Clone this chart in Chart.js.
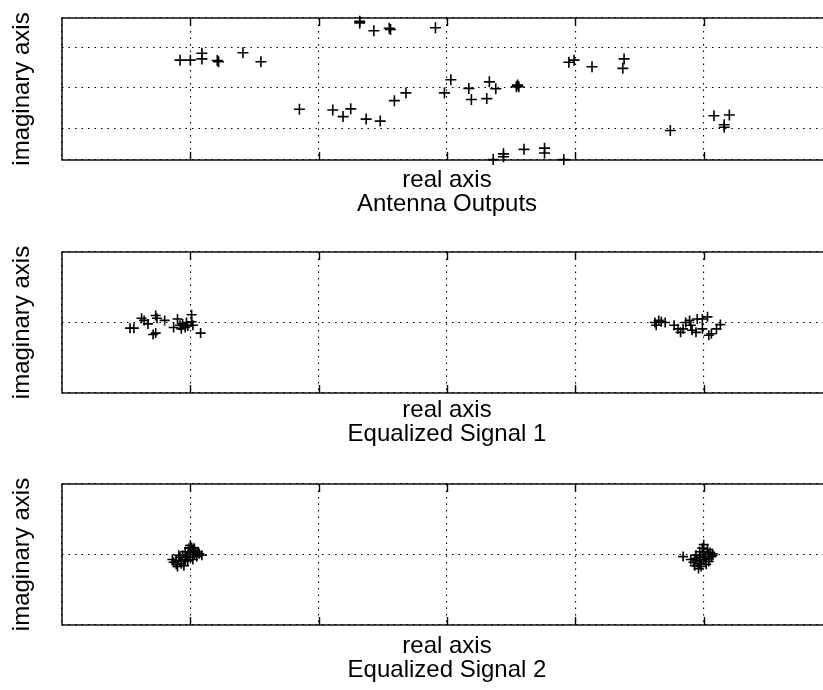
<!DOCTYPE html>
<html>
<head>
<meta charset="utf-8">
<script src="https://cdn.jsdelivr.net/npm/chart.js@4.4.0/dist/chart.umd.min.js"></script>
<style>
html, body { margin: 0; padding: 0; background: #fff; overflow: hidden; width: 823px; height: 690px; }
canvas { position: absolute; left: 0; }
</style>
</head>
<body>
<canvas id="c1" width="840" height="230" style="top:0px"></canvas>
<canvas id="c2" width="840" height="230" style="top:230px"></canvas>
<canvas id="c3" width="840" height="230" style="top:460px"></canvas>
<script>
// titles under each panel
const panelTitles = ['Antenna Outputs', 'Equalized Signal 1', 'Equalized Signal 2'];
const xLabel = 'real axis';
const yLabel = 'imaginary axis';

// antenna outputs (real, imaginary)
const antennaRe = [-2.08, -2.00, -1.91, -1.91, -1.79, -1.78, -1.59, -1.45, -1.15, -0.68, -0.68, -0.57, -0.45, -0.44,
  -0.89, -0.81, -0.75, -0.63, -0.52, -0.41, -0.32, -0.09, 0.03, -0.02, 0.17, 0.19, 0.31, 0.33, 0.38, 0.55, 0.56, 0.54,
  0.36, 0.44, 0.44, 0.60, 0.76, 0.76, 0.91, 0.95, 0.99, 1.13, 1.38, 1.37, 1.74, 2.08, 2.20, 2.16, 2.16];
const antennaIm = [0.68, 0.68, 0.85, 0.71, 0.67, 0.64, 0.86, 0.64, -0.52, 1.63, 1.59, 1.40, 1.46, 1.43,
  -0.54, -0.70, -0.51, -0.76, -0.81, -0.31, -0.12, 1.47, 0.20, -0.12, -0.01, -0.28, -0.26, 0.15, -0.02, 0.07, 0.03, 0.03,
  -1.75, -1.61, -1.68, -1.50, -1.47, -1.59, -1.75, 0.63, 0.68, 0.52, 0.71, 0.48, -1.04, -0.68, -0.66, -0.90, -0.96];

// equalized signal 1
const eq1Re = [-2.47, -2.44, -2.38, -2.36, -2.33, -2.27, -2.26, -2.20, -2.29, -2.27, -2.13, -2.10, -2.08, -2.07,
  -2.06, -2.04, -2.03, -2.02, -1.99, -1.99, -1.98, -1.92,
  1.62, 1.65, 1.63, 1.67, 1.70, 1.77, 1.80, 1.82, 1.86, 1.89, 1.91, 1.90, 1.95, 1.99, 2.03, 1.99, 2.04, 2.06,
  2.10, 2.13, 1.84, 1.94];
const eq1Im = [-0.08, -0.08, 0.06, 0.03, -0.02, 0.10, 0.06, 0.03, -0.17, -0.15, -0.07, 0.05, -0.04, -0.09,
  -0.02, -0.07, 0.00, -0.05, 0.11, 0.01, -0.04, -0.15,
  0.00, 0.03, -0.04, 0.01, 0.00, -0.04, -0.09, -0.14, 0.00, 0.03, -0.11, -0.04, 0.05, 0.05, 0.08, -0.09, -0.18, -0.16,
  -0.09, -0.03, -0.09, -0.14];

// equalized signal 2
const eq2Re = [-2.14, -2.13, -2.11, -2.10, -2.11, -2.08, -2.07, -2.05, -2.06, -2.04, -2.03, -2.02, -2.01, -2.00,
  -2.00, -1.99, -1.98, -1.97, -1.97, -1.96, -1.94, -1.93, -1.91, -2.04, -2.07, -2.09, -2.00, -1.95, -2.02, -1.98,
  1.84, 1.90, 1.92, 1.93, 1.95, 1.97, 1.97, 1.99, 2.00, 2.00, 2.01, 2.02, 2.03, 2.04, 2.04, 2.05, 2.06, 2.07,
  2.07, 1.96, 1.98, 2.00, 1.94, 1.97, 2.02, 1.93, 2.04, 1.99];
const eq2Im = [-0.07, -0.11, -0.14, -0.17, -0.09, -0.04, -0.10, -0.16, -0.01, 0.04, -0.03, -0.09, 0.09, 0.03,
  -0.04, 0.10, 0.06, 0.00, 0.09, 0.03, 0.04, 0.01, -0.01, -0.07, -0.13, -0.01, 0.13, -0.03, 0.00, -0.07,
  -0.03, -0.07, -0.11, -0.16, -0.09, -0.04, -0.13, 0.00, -0.07, 0.04, -0.03, -0.10, 0.07, 0.00, -0.06, 0.03, -0.03, -0.01,
  0.01, -0.20, -0.17, 0.14, -0.01, 0.04, -0.14, -0.06, -0.10, 0.09];

const fontFamily = "'Liberation Sans', Arial, Helvetica, sans-serif";

// box around the plot and inward ticks along top and bottom
const framePlugin = {
  id: 'frame',
  afterDraw(chart) {
    const { ctx, chartArea: a, scales: { x } } = chart;
    ctx.save();
    ctx.strokeStyle = '#000';
    ctx.lineWidth = 1.4;
    ctx.strokeRect(a.left, a.top, a.right - a.left, a.bottom - a.top);
    x.ticks.forEach(t => {
      const px = Math.round(x.getPixelForValue(t.value)) + 0.5;
      if (px <= a.left + 2 || px >= a.right - 2) return;
      ctx.beginPath();
      ctx.moveTo(px, a.top); ctx.lineTo(px, a.top + 8);
      ctx.moveTo(px, a.bottom); ctx.lineTo(px, a.bottom - 8);
      ctx.stroke();
    });
    ctx.restore();
  }
};

function makePanel(id, re, im, title, yMin, yMax, top, bottom, titlePad, radius) {
  const canvasH = 230;
  new Chart(document.getElementById(id), {
    type: 'scatter',
    data: {
      datasets: [{
        data: re.map((v, i) => ({ x: v, y: im[i] })),
        pointStyle: 'cross',
        pointRadius: radius,
        pointHoverRadius: radius,
        borderColor: '#000',
        backgroundColor: '#000',
        borderWidth: 1.6,
        clip: 10
      }]
    },
    options: {
      responsive: false,
      animation: false,
      devicePixelRatio: 1,
      layout: { padding: { top: top, right: 8, bottom: 0, left: 0 } },
      plugins: { legend: { display: false }, tooltip: { enabled: false } },
      scales: {
        x: {
          type: 'linear', min: -3, max: 3,
          ticks: { display: false, stepSize: 1 },
          grid: { color: '#000', lineWidth: 1.1, drawTicks: false },
          border: { display: false, dash: [1.5, 5] },
          title: {
            display: true, text: [xLabel, title], color: '#000',
            font: { family: fontFamily, size: 24, lineHeight: 1 },
            padding: { top: 0, bottom: titlePad }
          },
          afterFit(s) { s.height = canvasH - bottom; }
        },
        y: {
          type: 'linear', min: yMin, max: yMax,
          ticks: { display: false, stepSize: 1 },
          grid: { color: '#000', lineWidth: 1.1, drawTicks: false },
          border: { display: false, dash: [1.5, 5] },
          title: {
            display: true, text: yLabel, color: '#000',
            font: { family: fontFamily, size: 24, lineHeight: 1 },
            padding: { top: 10, bottom: 0 }
          },
          afterFit(s) { s.width = 62; }
        }
      }
    },
    plugins: [framePlugin]
  });
}

makePanel('c1', antennaRe, antennaIm, panelTitles[0], -1.76, 1.71, 18, 160, 14, 5.5);
makePanel('c2', eq1Re, eq1Im, panelTitles[1], -1, 1, 22, 163, 14, 5);
makePanel('c3', eq2Re, eq2Im, panelTitles[2], -1, 1, 24, 165, 8, 5);
</script>
</body>
</html>
